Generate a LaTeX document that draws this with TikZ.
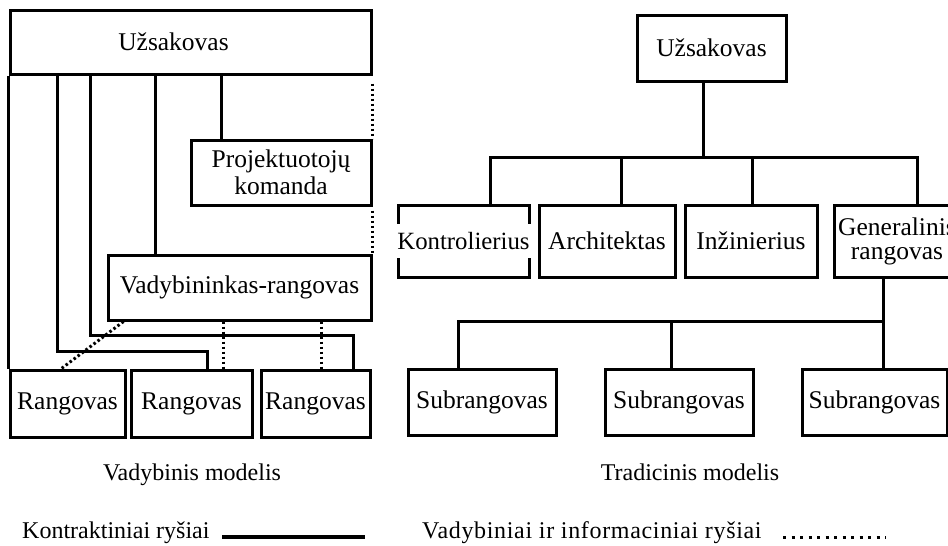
\documentclass[tikz,border=0pt]{standalone}
\usepackage{fontspec}
\setmainfont{Liberation Serif}
\begin{document}
\begin{tikzpicture}[x=1pt,y=-1pt,
  box/.style={draw, line width=3pt, inner sep=0pt, align=center, font=\fontsize{25.5}{27}\selectfont},
  con/.style={line width=3pt},
  dotl/.style={line width=3pt, dash pattern=on 2.5pt off 2.5pt},
  lbl/.style={inner sep=0pt, font=\fontsize{24}{27}\selectfont}]
\useasboundingbox (0,0) rectangle (948,546);

% ---------- left: Vadybinis modelis ----------
\node[box, minimum width=361pt, minimum height=64pt] (uz1) at (190.5,42) {};
\node[lbl, font=\fontsize{25.5}{27}\selectfont] (uz1t) at ([xshift=-17pt]uz1.center) {Užsakovas};
\node[box, minimum width=180pt, minimum height=65pt, font=\fontsize{25.5}{27}\selectfont] (proj) at (281,172.5) {Projektuotojų\\komanda};
\node[box, minimum width=263pt, minimum height=65pt] (vad) at (239.5,287.5) {Vadybininkas-rangovas};
\node[box, minimum width=115pt, minimum height=67pt] (r1) at (67.5,403.5) {Rangovas};
\node[box, minimum width=121pt, minimum height=67pt] (r2) at (191.5,403.5) {Rangovas};
\node[box, minimum width=109pt, minimum height=67pt] (r3) at (315.5,403.5) {Rangovas};

% contractual (solid)
\draw[con] (uz1.south west) -- (r1.north west);
\draw[con] ([xshift=49pt]uz1.south west) |- ([shift={(15.5pt,17pt)}]r2.north) -- ([xshift=15.5pt]r2.north);
\draw[con] ([xshift=82pt]uz1.south west) |- ([shift={(37.5pt,33pt)}]r3.north) -- ([xshift=37.5pt]r3.north);
\draw[con] ([xshift=147pt]uz1.south west) -- ([xshift=49pt]vad.north west);
\draw[con] ([xshift=213pt]uz1.south west) -- ([xshift=32pt]proj.north west);

% management / information (dotted)
\draw[dotl] ([yshift=-8pt]uz1.south east) -- (proj.north east);
\draw[dotl] ([yshift=-4pt]proj.south east) -- (vad.north east);
\draw[dotl] ([xshift=17pt]vad.south west) -- ([xshift=53pt]r1.north west);
\draw[dotl] ([xshift=31.5pt]r2.north |- vad.south) -- ([xshift=31.5pt]r2.north);
\draw[dotl] ([xshift=5.5pt]r3.north |- vad.south) -- ([xshift=5.5pt]r3.north);

% ---------- right: Tradicinis modelis ----------
\node[box, minimum width=149pt, minimum height=66pt] (uz2) at (711.5,48) {Užsakovas};
\node[box, minimum width=131pt, minimum height=72pt] (k) at (463.5,241) {};
\node[lbl, fill=white, inner ysep=8pt, inner xsep=3pt, font=\fontsize{24.8}{27}\selectfont] (kt) at (k.center) {Kontrolierius};
\node[box, minimum width=136pt, minimum height=72pt] (a) at (607,241) {Architektas};
\node[box, minimum width=132pt, minimum height=72pt] (i) at (751,241) {Inžinierius};
\node[box, minimum width=126pt, minimum height=72pt, font=\fontsize{25.5}{24}\selectfont] (g) at (897,241) {Generalinis\\rangovas};
\node[box, minimum width=148pt, minimum height=66pt] (s1) at (482,402) {Subrangovas};
\node[box, minimum width=148pt, minimum height=66pt] (s2) at (679,402) {Subrangovas};
\node[box, minimum width=145pt, minimum height=66pt] (s3) at (874.5,402) {Subrangovas};

\coordinate (b1) at (703,157);
\coordinate (b2) at (883,321);
\draw[con] (uz2.south -| b1) -- (b1);
\draw[con] ([xshift=26.5pt]k.north) |- ([xshift=20pt]g.north |- b1) -- ([xshift=20pt]g.north);
\draw[con] ([xshift=14pt]a.north) -- ([xshift=14pt]a.north |- b1);
\draw[con] ([xshift=1pt]i.north) -- ([xshift=1pt]i.north |- b1);
\draw[con] ([xshift=-14pt]g.south) -- ([xshift=8.5pt]s3.north);
\draw[con] ([xshift=-24pt]s1.north) |- (b2);
\draw[con] ([xshift=-8pt]s2.north) -- ([xshift=-8pt]s2.north |- b2);

% ---------- captions and legend ----------
\node[lbl, anchor=base] (cap1) at (192,480) {Vadybinis modelis};
\node[lbl, anchor=base] (cap2) at (690,480) {Tradicinis modelis};
\node[lbl, anchor=base west] (leg1) at (22,538) {Kontraktiniai ryšiai};
\node[lbl, anchor=base west] (leg2) at (422,538) {\addfontfeature{LetterSpace=2.8}Vadybiniai ir informaciniai ryšiai};
\coordinate (l1a) at (222,537);
\coordinate (l1b) at (365,537);
\coordinate (l2a) at (783,537);
\coordinate (l2b) at (886,537);
\draw[line width=3.4pt] (l1a) -- (l1b);
\draw[line width=3pt, dash pattern=on 3pt off 5.5pt] (l2a) -- (l2b);
\end{tikzpicture}
\end{document}
